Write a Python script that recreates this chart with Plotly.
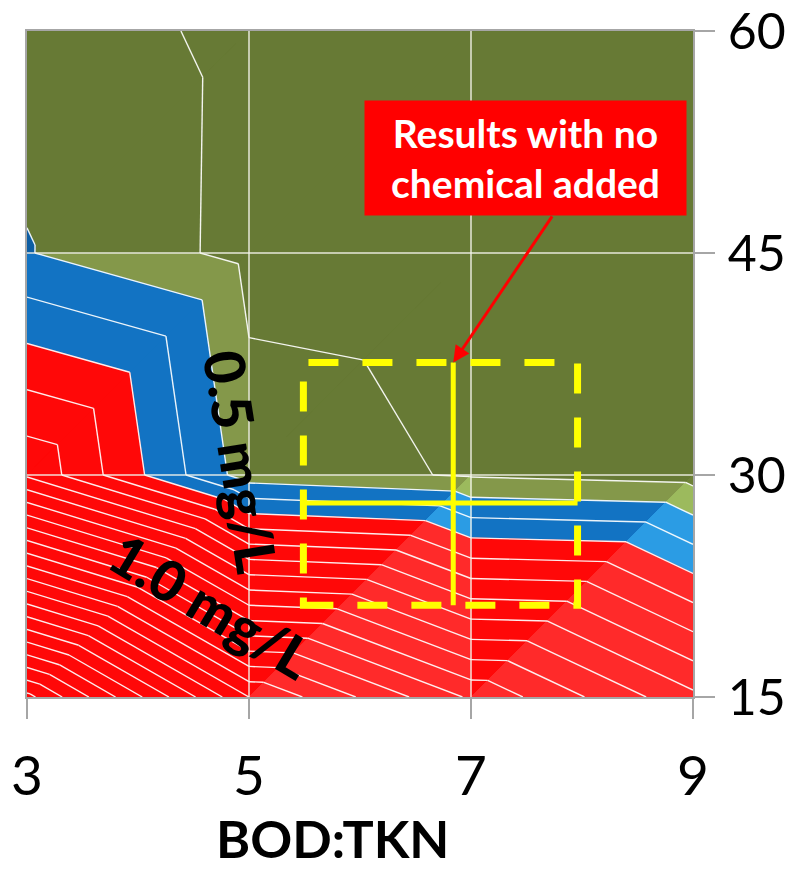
import math
import plotly.graph_objects as go

# ---------------------------------------------------------------------------
# Response surface: effluent P (mg/L) on a BOD:TKN x SRT grid
# ---------------------------------------------------------------------------
bod_tkn = [3, 5, 7, 9]
srt = [15, 30, 45, 60]

# one list per SRT row, values follow bod_tkn
tp_srt15 = [6.08, 4.00, 2.96, 2.06]
tp_srt30 = [1.71, 0.37, 0.225, 0.156]
tp_srt45 = [0.512, 0.176, 0.138, 0.10]
tp_srt60 = [0.406, 0.181, 0.10, 0.08]

level_step = 0.25          # contour interval, mg/L

x_ticks = [3, 5, 7, 9]
y_ticks = [15, 30, 45, 60]

# operating point with no chemical added (centre and spread)
no_chem_x = 6.84
no_chem_x_range = [5.49, 7.96]
no_chem_y = 28.1
no_chem_y_range = [21.2, 37.6]

# ---------------------------------------------------------------------------
# Styling
# ---------------------------------------------------------------------------
FONT = "Lato"
GRID_GREY = "#A6A6A6"

PALETTE = {
    "green_dark": {"base": "#677A35", "shade": "#677A35", "lit": "#6E8238"},
    "green_light": {"base": "#84984A", "shade": "#677A35", "lit": "#9CBA5D"},
    "blue": {"base": "#1273C3", "shade": "#0D5EA3", "lit": "#2B9CE4"},
    "red": {"base": "#FF0808", "shade": "#E80808", "lit": "#FF2A2A"},
}

# lighting of individual facets (cell column, cell row) -> triangle -> tone
FACET_TONE = {
    (0, 2): {"upper": "shade", "lower": "shade"},
    (1, 1): {"upper": "shade", "lower": "shade"},
    (1, 0): {"lower": "lit"},
    (2, 0): {"lower": "lit"},
}


def band_name(k):
    if k <= 0:
        return "green_dark"
    if k == 1:
        return "green_light"
    if k in (2, 3):
        return "blue"
    return "red"


# ---------------------------------------------------------------------------
# Triangulated surface -> filled bands and contour lines
# ---------------------------------------------------------------------------
grid = [tp_srt15, tp_srt30, tp_srt45, tp_srt60]
zmax = max(max(r) for r in grid)
kmax = int(math.floor(zmax / level_step))


def clip_half(poly, level, keep_above):
    out = []
    n = len(poly)
    for i in range(n):
        p, q = poly[i], poly[(i + 1) % n]
        dp = (p[2] - level) if keep_above else (level - p[2])
        dq = (q[2] - level) if keep_above else (level - q[2])
        if dp >= 0:
            out.append(p)
        if (dp >= 0) != (dq >= 0):
            t = dp / (dp - dq)
            out.append(tuple(p[c] + t * (q[c] - p[c]) for c in range(3)))
    return out


triangles = []  # (vertices, tone)
for j in range(len(srt) - 1):
    for i in range(len(bod_tkn) - 1):
        p00 = (bod_tkn[i], srt[j], grid[j][i])
        p10 = (bod_tkn[i + 1], srt[j], grid[j][i + 1])
        p01 = (bod_tkn[i], srt[j + 1], grid[j + 1][i])
        p11 = (bod_tkn[i + 1], srt[j + 1], grid[j + 1][i + 1])
        tones = FACET_TONE.get((i, j), {})
        triangles.append(([p00, p11, p01], tones.get("upper", "base")))
        triangles.append(([p00, p10, p11], tones.get("lower", "base")))

fills = {}
for tri, tone in triangles:
    for k in range(0, kmax + 1):
        poly = list(tri)
        if k > 0:
            poly = clip_half(poly, k * level_step, True)
        if len(poly) >= 3 and k < kmax:
            poly = clip_half(poly, (k + 1) * level_step, False)
        if len(poly) < 3:
            continue
        colour = PALETTE[band_name(k)][tone]
        fills.setdefault(colour, []).append(poly)

seg_x, seg_y = [], []
for tri, _ in triangles:
    for m in range(1, kmax + 1):
        lev = m * level_step
        pts = []
        for a, b in ((0, 1), (1, 2), (2, 0)):
            pa, pb = tri[a], tri[b]
            da, db = pa[2] - lev, pb[2] - lev
            if (da < 0) != (db < 0):
                t = da / (da - db)
                pts.append((pa[0] + t * (pb[0] - pa[0]), pa[1] + t * (pb[1] - pa[1])))
        if len(pts) == 2:
            seg_x += [pts[0][0], pts[1][0], None]
            seg_y += [pts[0][1], pts[1][1], None]

fig = go.Figure()

for colour, polys in fills.items():
    xs, ys = [], []
    for poly in polys:
        xs += [p[0] for p in poly] + [poly[0][0], None]
        ys += [p[1] for p in poly] + [poly[0][1], None]
    fig.add_trace(go.Scatter(
        x=xs, y=ys, mode="lines", fill="toself", fillcolor=colour,
        line=dict(color=colour, width=0.8), hoverinfo="skip", showlegend=False,
    ))

fig.add_trace(go.Scatter(
    x=seg_x, y=seg_y, mode="lines",
    line=dict(color="rgba(255,255,255,0.92)", width=1.4),
    hoverinfo="skip", showlegend=False,
))

# ---------------------------------------------------------------------------
# Gridlines over the surface, then the no-chemical marker
# ---------------------------------------------------------------------------
shapes = []
for xv in x_ticks[1:-1]:
    shapes.append(dict(type="line", layer="above", x0=xv, x1=xv,
                       y0=y_ticks[0], y1=y_ticks[-1],
                       line=dict(color="rgba(245,245,235,0.9)", width=1.5)))
for yv in y_ticks[1:-1]:
    shapes.append(dict(type="line", layer="above", x0=x_ticks[0], x1=x_ticks[-1],
                       y0=yv, y1=yv,
                       line=dict(color="rgba(245,245,235,0.9)", width=1.5)))

shapes.append(dict(type="rect", layer="above",
                   x0=no_chem_x_range[0], x1=no_chem_x_range[1],
                   y0=no_chem_y_range[0], y1=no_chem_y_range[1],
                   line=dict(color="#FFFF00", width=7, dash="30px,24px"),
                   fillcolor="rgba(0,0,0,0)"))
shapes.append(dict(type="line", layer="above",
                   x0=no_chem_x_range[0], x1=no_chem_x_range[1],
                   y0=no_chem_y, y1=no_chem_y,
                   line=dict(color="#FFFF00", width=5)))
shapes.append(dict(type="line", layer="above",
                   x0=no_chem_x, x1=no_chem_x,
                   y0=no_chem_y_range[0], y1=no_chem_y_range[1],
                   line=dict(color="#FFFF00", width=5)))

annotations = [
    dict(x=7.49, y=51.4, xref="x", yref="y", showarrow=False,
         text="<b>Results with no<br>chemical added</b>",
         font=dict(family=FONT, size=39, color="white"),
         bgcolor="#FF0000", width=321, height=114, borderpad=0),
    dict(x=no_chem_x, y=no_chem_y_range[1], xref="x", yref="y",
         ax=7.74, ay=47.57, axref="x", ayref="y", text="",
         showarrow=True, arrowhead=2, arrowsize=1.1, arrowwidth=3,
         arrowcolor="#FF0000", standoff=0),
    dict(x=4.93, y=30.9, xref="x", yref="y", showarrow=False,
         text="0.5 mg/L", textangle=81,
         font=dict(family=FONT, size=56, color="black", weight=900)),
    dict(x=4.66, y=21.15, xref="x", yref="y", showarrow=False,
         text="1.0 mg/L", textangle=31,
         font=dict(family=FONT, size=56, color="black", weight=900)),
    dict(x=0.458, y=-0.212, xref="paper", yref="paper", showarrow=False,
         text="<b>BOD:TKN</b>", xanchor="center", yanchor="middle",
         font=dict(family=FONT, size=52, color="black")),
]

axis_common = dict(
    showgrid=False, zeroline=False, ticks="outside", ticklen=20,
    tickcolor=GRID_GREY, tickwidth=1.5, showline=True, mirror=True,
    linecolor=GRID_GREY, linewidth=1.5, ticklabeloverflow="allow",
    automargin=False,
)

fig.update_layout(
    width=797, height=873,
    margin=dict(l=27, r=104, t=31, b=176, autoexpand=False),
    paper_bgcolor="white", plot_bgcolor="white",
    xaxis=dict(range=[x_ticks[0], x_ticks[-1]], tickvals=x_ticks,
               ticklabelstandoff=10,
               tickfont=dict(family=FONT, size=55, color="black"),
               **axis_common),
    yaxis=dict(range=[y_ticks[0], y_ticks[-1]], tickvals=y_ticks, side="right",
               ticklabelstandoff=3,
               tickfont=dict(family=FONT, size=50, color="black"),
               **axis_common),
    shapes=shapes, annotations=annotations, showlegend=False,
)

fig.write_html("out.html")
